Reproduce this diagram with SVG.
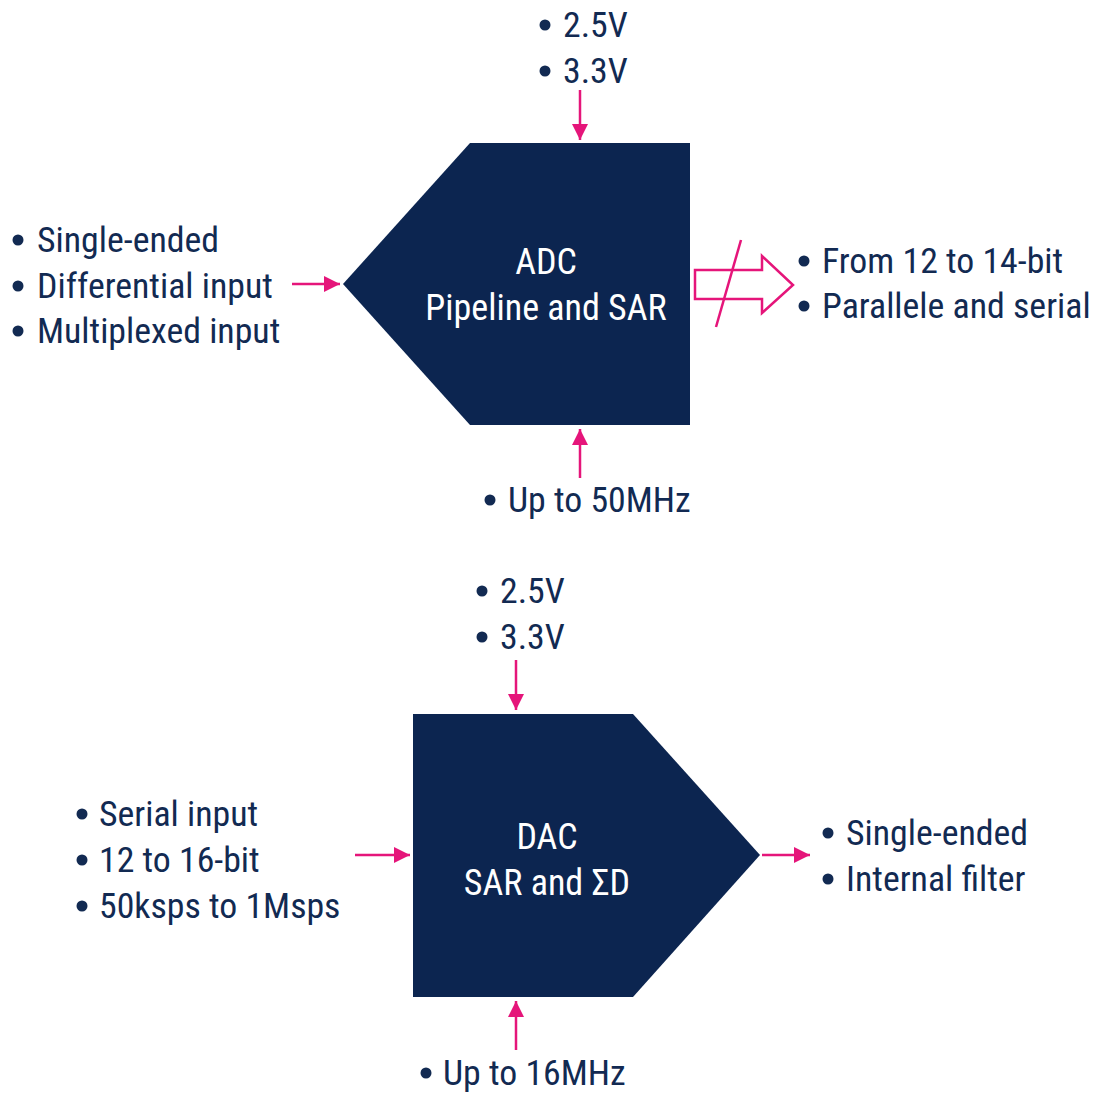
<svg xmlns="http://www.w3.org/2000/svg" width="1093" height="1093" viewBox="0 0 1093 1093">
<defs>
<style>
.t{font-family:"Liberation Sans Narrow","Roboto Condensed","Liberation Sans",Arial,sans-serif;font-size:35.8px;fill:#122a52}
.w{font-family:"Liberation Sans Narrow","Roboto Condensed","Liberation Sans",Arial,sans-serif;font-size:36px;fill:#ffffff;text-anchor:middle}
.blk{fill:#0c2550}
.c{stroke:#e5157a;stroke-width:2.5;fill:none}
.d{fill:#122a52}
</style>
<marker id="ah" viewBox="0 0 10 10" refX="10" refY="5" markerWidth="6.5" markerHeight="6.5" markerUnits="strokeWidth" orient="auto"><path d="M0,0 L10,5 L0,10 z" fill="#e5157a"/></marker>
</defs>
<rect width="1093" height="1093" fill="#ffffff"/>
<g id="adc">
<polygon class="blk" points="470,143 690,143 690,425 470,425 343,284"/>
<text class="w" x="546" y="274">ADC</text>
<text class="w" x="546" y="320">Pipeline and SAR</text>
</g>
<g id="dac">
<polygon class="blk" points="413,714 633,714 760,855 633,997 413,997"/>
<text class="w" x="547" y="849">DAC</text>
<text class="w" x="547" y="895">SAR and ΣD</text>
</g>
<g id="adc-labels">
<circle class="d" cx="545" cy="25" r="5.5"/><text class="t" x="563" y="37">2.5V</text>
<circle class="d" cx="545" cy="71" r="5.5"/><text class="t" x="563" y="83">3.3V</text>
<circle class="d" cx="18" cy="240" r="5.5"/><text class="t" x="37" y="252">Single-ended</text>
<circle class="d" cx="18" cy="286" r="5.5"/><text class="t" x="37" y="298">Differential input</text>
<circle class="d" cx="18" cy="331" r="5.5"/><text class="t" x="37" y="343">Multiplexed input</text>
<circle class="d" cx="804" cy="261" r="5.5"/><text class="t" x="822" y="273">From 12 to 14-bit</text>
<circle class="d" cx="804" cy="306" r="5.5"/><text class="t" x="822" y="318">Parallele and serial</text>
<circle class="d" cx="490" cy="500" r="5.5"/><text class="t" x="508" y="512">Up to 50MHz</text>
</g>
<g id="dac-labels">
<circle class="d" cx="482" cy="591" r="5.5"/><text class="t" x="500" y="603">2.5V</text>
<circle class="d" cx="482" cy="637" r="5.5"/><text class="t" x="500" y="649">3.3V</text>
<circle class="d" cx="82" cy="814" r="5.5"/><text class="t" x="99" y="826">Serial input</text>
<circle class="d" cx="82" cy="860" r="5.5"/><text class="t" x="99" y="872">12 to 16-bit</text>
<circle class="d" cx="82" cy="906" r="5.5"/><text class="t" x="99" y="918">50ksps to 1Msps</text>
<circle class="d" cx="828" cy="833" r="5.5"/><text class="t" x="846" y="845">Single-ended</text>
<circle class="d" cx="828" cy="879" r="5.5"/><text class="t" x="846" y="891">Internal filter</text>
<circle class="d" cx="426" cy="1073" r="5.5"/><text class="t" x="443" y="1085">Up to 16MHz</text>
</g>
<g id="connectors">
<line class="c" x1="580" y1="90" x2="580" y2="140" marker-end="url(#ah)"/>
<line class="c" x1="292" y1="284" x2="340" y2="284" marker-end="url(#ah)"/>
<line class="c" x1="580" y1="478" x2="580" y2="429" marker-end="url(#ah)"/>
<polygon class="c" points="695,270 762,270 762,256 793,285 762,313 762,299 695,299"/>
<line class="c" x1="741" y1="240" x2="716" y2="327"/>
<line class="c" x1="516" y1="660" x2="516" y2="710" marker-end="url(#ah)"/>
<line class="c" x1="355" y1="855" x2="410" y2="855" marker-end="url(#ah)"/>
<line class="c" x1="762" y1="855" x2="810" y2="855" marker-end="url(#ah)"/>
<line class="c" x1="516" y1="1050" x2="516" y2="1001" marker-end="url(#ah)"/>
</g>
</svg>
